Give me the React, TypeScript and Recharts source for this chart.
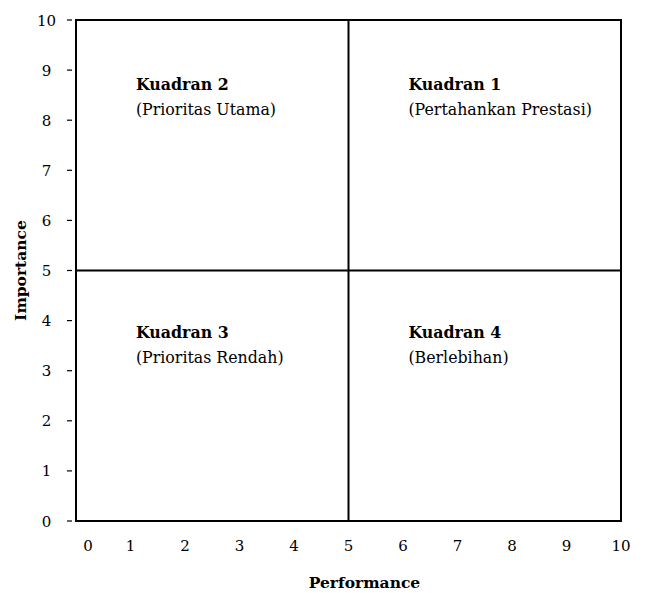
import { ScatterChart, Scatter, XAxis, YAxis, ReferenceLine, ReferenceArea } from 'recharts';

const ticks = [0, 1, 2, 3, 4, 5, 6, 7, 8, 9, 10];
const quadrantTitles = ['Kuadran 1', 'Kuadran 2', 'Kuadran 3', 'Kuadran 4'];
const quadrantNotes = ['(Pertahankan Prestasi)', '(Prioritas Utama)', '(Prioritas Rendah)', '(Berlebihan)'];
const quadrantX = [6.1, 1.1, 1.1, 6.1];
const quadrantY = [8.6, 8.6, 3.65, 3.65];
const midPerformance = 5;
const midImportance = 5;

const quadrants = quadrantTitles.map((t, i) => ({
  x: quadrantX[i],
  y: quadrantY[i],
  title: t,
  note: quadrantNotes[i],
}));

const font = '"DejaVu Serif", serif';

const YTick = ({ x, y, payload }: any) => (
  <g>
    <line x1={x - 9} x2={x - 4} y1={y} y2={y} stroke="#000" strokeWidth={1.2} />
    <text x={x - 29.5} y={y + 5.5} textAnchor="middle" fontSize={15} fontFamily={font} fill="#000">
      {payload.value}
    </text>
  </g>
);

const XTick = ({ x, y, payload }: any) => (
  <text x={x + (payload.value === 0 ? 12 : 0)} y={y + 30} textAnchor="middle" fontSize={15} fontFamily={font} fill="#000">
    {payload.value}
  </text>
);

const QuadrantLabel = ({ cx, cy, payload }: any) => (
  <g>
    <text x={cx} y={cy} fontSize={15.8} fontWeight="bold" fontFamily={font} fill="#000">{payload.title}</text>
    <text x={cx} y={cy + 25} fontSize={15.8} fontFamily={font} fill="#000">{payload.note}</text>
  </g>
);

export default function App() {
  return (
    <div style={{ position: 'absolute', left: 0, top: 0, background: '#fff' }}>
      <ScatterChart width={645} height={593} margin={{ top: 20, right: 24, bottom: 0, left: 0 }}>
        <XAxis
          type="number"
          dataKey="x"
          domain={[0, 10]}
          ticks={ticks}
          height={72}
          tickSize={0}
          tickMargin={0}
          axisLine={false}
          tickLine={false}
          tick={<XTick />}
          label={{
            content: ({ viewBox }: any) => (
              <text x={viewBox.x + viewBox.width / 2 + 16} y={viewBox.y + 67} textAnchor="middle" fontSize={15.5} fontWeight="bold" fontFamily={font} fill="#000">
                Performance
              </text>
            ),
          }}
        />
        <YAxis
          type="number"
          dataKey="y"
          domain={[0, 10]}
          ticks={ticks}
          width={76}
          tickSize={0}
          tickMargin={0}
          axisLine={false}
          tickLine={false}
          tick={<YTick />}
          label={{
            content: ({ viewBox }: any) => (
              <text x={20} y={viewBox.y + viewBox.height / 2} transform={`rotate(-90, 20, ${viewBox.y + viewBox.height / 2})`} textAnchor="middle" dominantBaseline="central" fontSize={15.5} fontWeight="bold" fontFamily={font} fill="#000">
                Importance
              </text>
            ),
          }}
        />
        <ReferenceArea x1={0} x2={10} y1={0} y2={10} fill="none" stroke="#000" strokeWidth={2} fillOpacity={0} />
        <ReferenceLine x={midPerformance} stroke="#000" strokeWidth={2} />
        <ReferenceLine y={midImportance} stroke="#000" strokeWidth={2} />
        <Scatter data={quadrants} shape={<QuadrantLabel />} isAnimationActive={false} />
      </ScatterChart>
    </div>
  );
}
